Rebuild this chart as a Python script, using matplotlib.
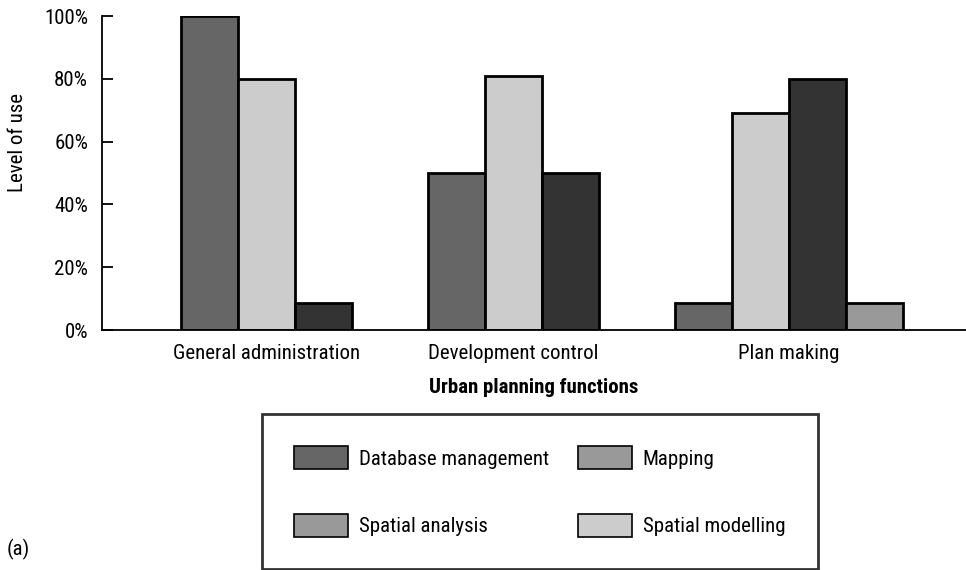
import matplotlib.pyplot as plt
from matplotlib.patches import Patch
from matplotlib.ticker import PercentFormatter

plt.rcParams['font.family'] = ['Roboto Condensed', 'DejaVu Sans']

# data (percent); None = no bar in that group
functions = ['General administration', 'Development control', 'Plan making']
database_mgmt = [100, 50, 8.5]
spatial_modelling = [80, 81, 69]
spatial_analysis = [8.5, 50, 80]
mapping = [None, None, 8.5]

series = [
    (database_mgmt, '#666666'),
    (spatial_modelling, '#cccccc'),
    (spatial_analysis, '#333333'),
    (mapping, '#999999'),
]

legend_items = [('Database management', '#666666'), ('Spatial analysis', '#999999'),
                ('Mapping', '#999999'), ('Spatial modelling', '#cccccc')]

fs = 15

fig = plt.figure(figsize=(9.66, 5.70), dpi=100)
ax = fig.add_axes([102 / 966, 1 - 330 / 570, 1 - 102 / 966, 314 / 570])

width = 1.0
gap = 1.33
start = 1.39
centers = []
for g in range(len(functions)):
    vals = [(s[g], c) for s, c in series if s[g] is not None]
    x = start
    for v, c in vals:
        ax.bar(x, v, width, align='edge', color=c, edgecolor='black', linewidth=2)
        x += width
    centers.append(start + len(vals) * width / 2)
    start = x + gap

ax.set_xlim(0, 15.16)
ax.set_ylim(0, 100)
ax.set_xticks(centers)
ax.set_xticklabels(functions, fontsize=fs)
ax.set_yticks([0, 20, 40, 60, 80, 100])
ax.yaxis.set_major_formatter(PercentFormatter(decimals=0))
ax.tick_params(axis='y', direction='in', length=8, width=1.3, labelsize=fs, pad=10)
ax.tick_params(axis='x', length=0, pad=10)
ax.spines['top'].set_visible(False)
ax.spines['right'].set_visible(False)
ax.spines['left'].set_linewidth(1.3)
ax.spines['bottom'].set_linewidth(1.3)
ax.set_xlabel('Urban planning functions', fontsize=fs, fontweight='bold', labelpad=11)

fig.text(18 / 966, 1 - 142 / 570, 'Level of use', rotation=90, fontsize=fs,
         ha='center', va='center')
fig.text(7 / 966, 1 - 549 / 570, '(a)', fontsize=fs, ha='left', va='center')

handles = [Patch(facecolor=c, edgecolor='black', linewidth=1.2) for _, c in legend_items]
labels = [l for l, _ in legend_items]
leg = fig.legend(handles, labels, ncol=2, loc='upper left',
                 bbox_to_anchor=(262 / 966, 1 - 414 / 570), fontsize=fs,
                 frameon=True, fancybox=False, shadow=False,
                 handlelength=2.6, handleheight=1.3, handletextpad=0.5,
                 labelspacing=2.15, columnspacing=1.4, borderpad=1.55,
                 borderaxespad=0)
leg.get_frame().set_edgecolor('black')
leg.get_frame().set_linewidth(2)

fig.savefig('out.png', dpi=100)
